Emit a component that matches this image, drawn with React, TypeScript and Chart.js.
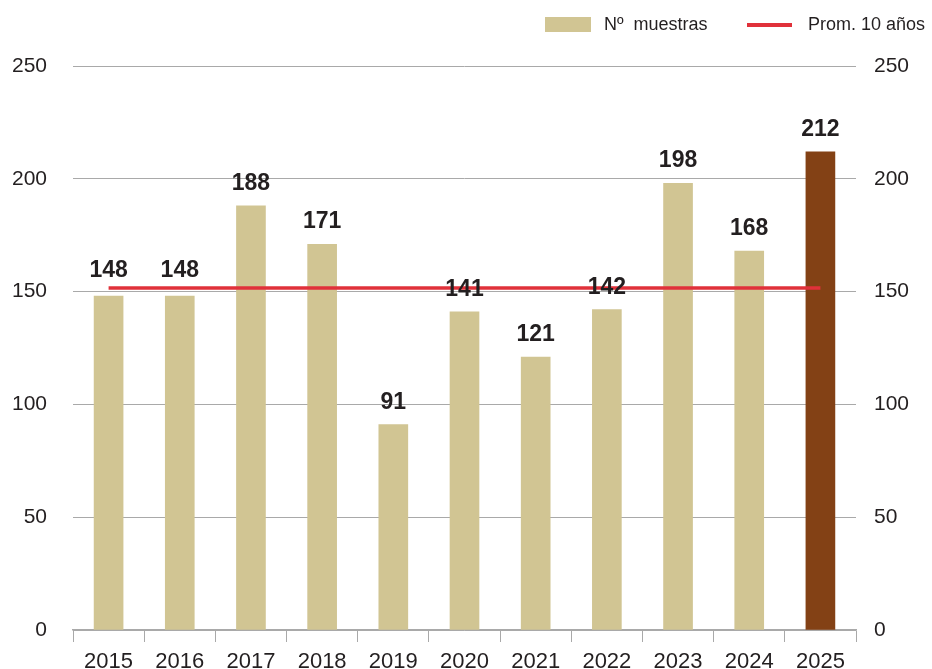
import React, { useEffect, useRef } from "react";
import { Chart, registerables } from "chart.js";

Chart.register(...registerables);

const years = ["2015", "2016", "2017", "2018", "2019", "2020", "2021", "2022", "2023", "2024", "2025"];
const samples = [148, 148, 188, 171, 91, 141, 121, 142, 198, 168, 212];
const tenYearAvg = 151.6;
const avgValues = years.map(() => tenYearAvg);
const barColors = ["#D1C593", "#D1C593", "#D1C593", "#D1C593", "#D1C593", "#D1C593", "#D1C593", "#D1C593", "#D1C593", "#D1C593", "#834115"];
const legendBarLabel = "Nº  muestras";
const legendLineLabel = "Prom. 10 años";

const FONT = "'Liberation Sans', Arial, Helvetica, sans-serif";
const TEXT = "#231F20";
const GRID = "#A9A9A9";

const labelPlugin = {
  id: "barLabels",
  afterDatasetsDraw(chart: any) {
    const ctx = chart.ctx;
    const meta = chart.getDatasetMeta(0);
    ctx.save();
    ctx.font = `bold 23px ${FONT}`;
    ctx.fillStyle = TEXT;
    ctx.textAlign = "center";
    ctx.textBaseline = "alphabetic";
    meta.data.forEach((el: any, i: number) => {
      const lift = samples[i] === 148 ? 19 : 16;
      ctx.fillText(String(samples[i]), el.x, el.y - lift);
    });
    ctx.restore();
  },
};

const legendPlugin = {
  id: "customLegend",
  afterDraw(chart: any) {
    const ctx = chart.ctx;
    ctx.save();
    ctx.fillStyle = "#D1C593";
    ctx.fillRect(545, 17, 46, 15);
    ctx.font = `18px ${FONT}`;
    ctx.fillStyle = TEXT;
    ctx.textBaseline = "middle";
    ctx.textAlign = "left";
    ctx.fillText(legendBarLabel, 604, 25);
    ctx.strokeStyle = "#E0313A";
    ctx.lineWidth = 4;
    ctx.beginPath();
    ctx.moveTo(747, 25);
    ctx.lineTo(792, 25);
    ctx.stroke();
    ctx.fillText(legendLineLabel, 808, 25);
    ctx.restore();
  },
};

export default function App() {
  const ref = useRef<HTMLCanvasElement>(null);
  useEffect(() => {
    if (!ref.current) return;
    const chart = new Chart(ref.current, {
      type: "bar",
      data: {
        labels: years,
        datasets: [
          {
            type: "bar",
            label: legendBarLabel,
            data: samples,
            backgroundColor: barColors,
            barThickness: 29,
            order: 1,
            yAxisID: "y",
          } as any,
          {
            type: "line",
            label: legendLineLabel,
            data: avgValues,
            borderColor: "#E0313A",
            borderWidth: 3.5,
            pointRadius: 0,
            fill: false,
            order: 0,
            yAxisID: "y",
          } as any,
        ],
      },
      options: {
        responsive: false,
        animation: false,
        layout: { padding: { top: 66, left: 0, right: 0, bottom: 0 } },
        plugins: {
          legend: { display: false },
          tooltip: { enabled: false },
        },
        scales: {
          x: {
            offset: true,
            grid: {
              display: true,
              drawOnChartArea: false,
              drawTicks: true,
              tickLength: 12,
              color: GRID,
              offset: true,
            },
            border: { display: true, color: GRID, width: 1.5 },
            ticks: {
              color: TEXT,
              font: { family: FONT, size: 22 },
              padding: 7,
              maxRotation: 0,
              autoSkip: false,
            },
            afterFit: (scale: any) => {
              scale.height = 39;
            },
          },
          y: {
            position: "left",
            min: 0,
            max: 250,
            ticks: {
              stepSize: 50,
              color: TEXT,
              font: { family: FONT, size: 21 },
              padding: 26,
            },
            grid: { color: GRID, drawTicks: false, lineWidth: 1 },
            border: { display: false },
            afterFit: (scale: any) => {
              scale.width = 73;
            },
          },
          y2: {
            position: "right",
            min: 0,
            max: 250,
            ticks: {
              stepSize: 50,
              color: TEXT,
              font: { family: FONT, size: 21 },
              padding: 18,
            },
            grid: { display: false, drawTicks: false },
            border: { display: false },
            afterFit: (scale: any) => {
              scale.width = 76;
            },
          },
        },
      } as any,
      plugins: [labelPlugin, legendPlugin],
    });
    return () => chart.destroy();
  }, []);
  return (
    <div style={{ position: "absolute", left: 0, top: 0, width: 932, height: 669, background: "#fff" }}>
      <canvas ref={ref} width={932} height={669} style={{ display: "block" }} />
    </div>
  );
}
